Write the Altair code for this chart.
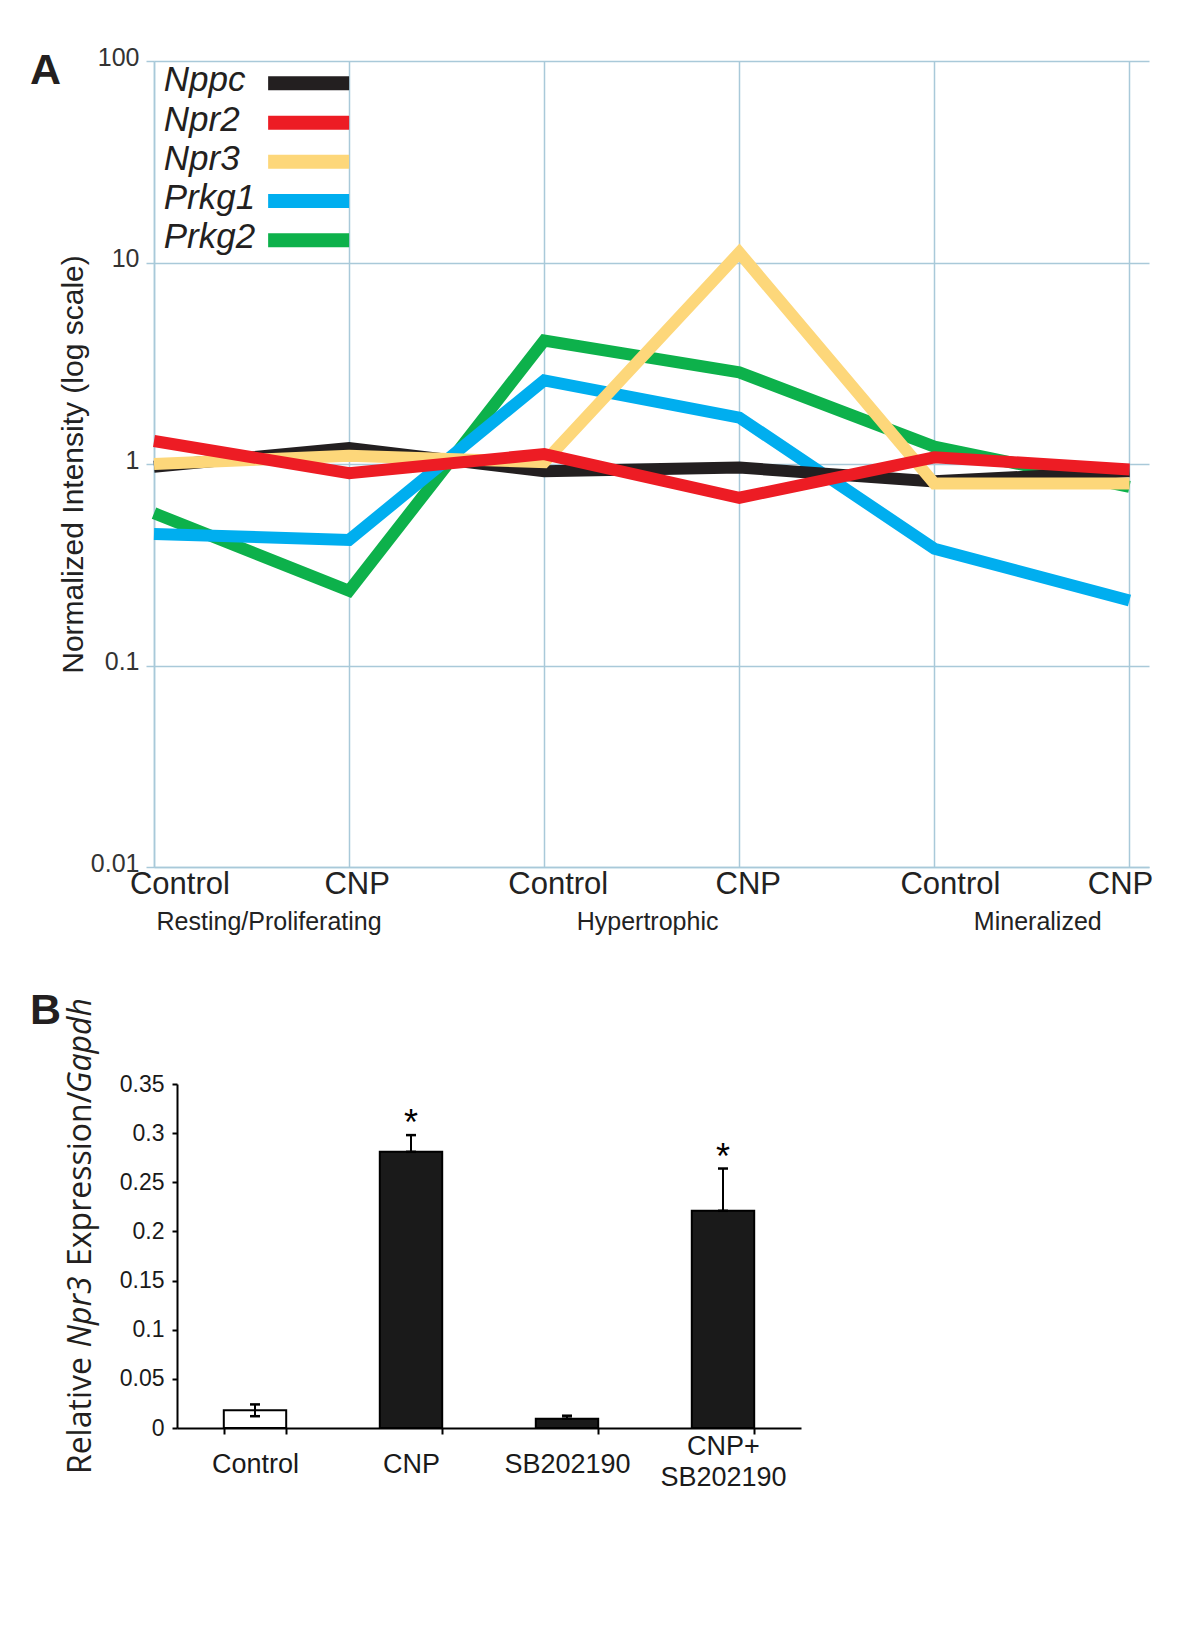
import altair as alt
import pandas as pd

FONT = "Liberation Sans"
GRID = "#a9c9d9"

# ---------------- Panel A data ----------------
positions = [0, 1, 2, 3, 4, 5]
conditions = ["Control", "CNP", "Control", "CNP", "Control", "CNP"]
genes = ["Nppc", "Npr2", "Npr3", "Prkg1", "Prkg2"]
gene_colors = ["#231f20", "#ed1c24", "#fdd77a", "#00aeef", "#0db14b"]
draw_order = ["Prkg2", "Prkg1", "Nppc", "Npr3", "Npr2"]

nppc = [0.97, 1.2, 0.92, 0.96, 0.82, 0.92]
npr2 = [1.3, 0.9, 1.12, 0.68, 1.08, 0.94]
npr3 = [1.0, 1.1, 1.02, 11.2, 0.8, 0.8]
prkg1 = [0.45, 0.42, 2.6, 1.7, 0.38, 0.21]
prkg2 = [0.57, 0.235, 4.1, 2.85, 1.22, 0.77]

y_ticks_a = [0.01, 0.1, 1, 10, 100]
xlabel_pos = [0.133, 1.041, 2.072, 3.046, 4.082, 4.954]
xlabel_y = 0.0081
stages = ["Resting/Proliferating", "Hypertrophic", "Mineralized"]
stage_pos = [0.59, 2.53, 4.53]
stage_y = 0.00533
legend_y = [77.6, 49.4, 31.6, 20.2, 12.9]
legend_text_x = 0.05
legend_sw_x1 = 0.585
legend_sw_x2 = 1.0

# ---------------- Panel B data ----------------
treatments = ["Control", "CNP", "SB202190", "CNP+ SB202190"]
expr = [0.018, 0.281, 0.0095, 0.221]
err = [0.006, 0.017, 0.003, 0.043]
filled = [False, True, True, True]
signif = ["", "*", "", "*"]
y_ticks_b = [0, 0.05, 0.1, 0.15, 0.2, 0.25, 0.3, 0.35]
title_parts = ["Relative", "Npr3", "Expression/", "Gapdh"]
title_italic = [False, True, False, True]
title_start = [-0.0469, 0.0818, 0.1649, 0.3405]

# ---------------- Panel A ----------------
series = {"Nppc": nppc, "Npr2": npr2, "Npr3": npr3, "Prkg1": prkg1, "Prkg2": prkg2}
rows = []
for g in genes:
    for p, v in zip(positions, series[g]):
        rows.append({"gene": g, "x": p, "y": v})
df_a = pd.DataFrame(rows)

xs = alt.Scale(domain=[0, 5.1], nice=False, zero=False)
ys = alt.Scale(type="log", domain=[0.01, 100], nice=False)
cs = alt.Scale(domain=genes, range=gene_colors)

ax_x = alt.Axis(values=positions, grid=True, gridColor=GRID, gridWidth=1.5,
                domainColor=GRID, domainWidth=1.5, ticks=False, labels=False, title=None)
ax_y = alt.Axis(values=y_ticks_a, grid=True, gridColor=GRID, gridWidth=1.5,
                domainColor=GRID, domainWidth=1.5, tickColor=GRID, tickWidth=1.5,
                tickSize=8, labelPadding=7, labelFont=FONT, labelFontSize=25,
                labelColor="#333333", labelOffset=-4, format="~g",
                title="Normalized Intensity (log scale)", titleFont=FONT,
                titleFontSize=30, titleFontWeight="normal", titleColor="#222222",
                titlePadding=2)

def X(field):
    return alt.X(field, type="quantitative", scale=xs, axis=ax_x)

def Y(field):
    return alt.Y(field, type="quantitative", scale=ys, axis=ax_y)

layers_a = []
for g in draw_order:
    layers_a.append(
        alt.Chart(df_a).transform_filter(alt.datum.gene == g)
        .mark_line(strokeWidth=12, strokeJoin="miter", strokeCap="butt")
        .encode(x=X("x"), y=Y("y"),
                color=alt.Color("gene:N", scale=cs, legend=None))
    )

df_leg = pd.DataFrame({"gene": genes, "y": legend_y,
                       "tx": [legend_text_x] * 5,
                       "x1": [legend_sw_x1] * 5, "x2": [legend_sw_x2] * 5})
leg_text = alt.Chart(df_leg).mark_text(
    align="left", baseline="alphabetic", dy=8, font=FONT, fontSize=35,
    fontStyle="italic", color="#231f20"
).encode(x=X("tx"), y=Y("y"), text="gene:N")
leg_sw = alt.Chart(df_leg).mark_rule(strokeWidth=14, strokeCap="butt").encode(
    x=X("x1"), x2="x2:Q", y=Y("y"),
    color=alt.Color("gene:N", scale=cs, legend=None))

df_xl = pd.DataFrame({"x": xlabel_pos, "y": [xlabel_y] * 6, "t": conditions})
xl_text = alt.Chart(df_xl).mark_text(
    align="center", baseline="middle", font=FONT, fontSize=31, color="#222222"
).encode(x=X("x"), y=Y("y"), text="t:N")

df_st = pd.DataFrame({"x": stage_pos, "y": [stage_y] * 3, "t": stages})
st_text = alt.Chart(df_st).mark_text(
    align="center", baseline="middle", font=FONT, fontSize=25, color="#222222"
).encode(x=X("x"), y=Y("y"), text="t:N")

df_la = pd.DataFrame({"x": [-0.636], "y": [76.9], "t": ["A"]})
label_a = alt.Chart(df_la).mark_text(
    align="left", baseline="alphabetic", font=FONT, fontSize=43,
    fontWeight="bold", color="#231f20"
).encode(x=X("x"), y=Y("y"), text="t:N")

chart_a = alt.layer(*layers_a, leg_sw, leg_text, xl_text, st_text, label_a).properties(
    width=995, height=806)

# ---------------- Panel B ----------------
df_b = pd.DataFrame({"t": treatments, "v": expr,
                     "lo": [v if f else v - e for v, e, f in zip(expr, err, filled)],
                     "hi": [v + e for v, e in zip(expr, err)],
                     "fill": ["#1a1a1a" if f else "#ffffff" for f in filled],
                     "sig": signif})

SHIFT = 23  # panel B axis sits further right than panel A's
bx = alt.Scale(domain=treatments, paddingInner=0.6, paddingOuter=0.3,
               range=[SHIFT, SHIFT + 624])
by = alt.Scale(domain=[0, 0.35], nice=False, zero=True)
ax_bx = alt.Axis(domainColor="black", domainWidth=2, tickColor="black", tickWidth=2,
                 tickSize=6, tickBand="extent", labelFont=FONT, labelFontSize=27,
                 labelColor="#1a1a1a", labelAngle=0, labelBaseline="middle",
                 labelPadding=alt.condition("datum.value == 'CNP+ SB202190'",
                                            alt.value(12), alt.value(30)),
                 labelLineHeight=31,
                 labelExpr="split(datum.label, ' ')", title=None)
ax_by = alt.Axis(values=y_ticks_b, domainColor="black", domainWidth=2,
                 tickColor="black", tickWidth=2, tickSize=5, labelPadding=8,
                 labelFont=FONT, labelFontSize=23, labelColor="#1a1a1a",
                 format="~g", grid=False, title=None, offset=-SHIFT)

def BX():
    return alt.X("t:N", scale=bx, axis=ax_bx, sort=treatments)

def BY(field):
    return alt.Y(field, type="quantitative", scale=by, axis=ax_by)

bars = alt.Chart(df_b).mark_bar(stroke="black", strokeWidth=2).encode(
    x=BX(), y=BY("v"), fill=alt.Fill("fill:N", scale=None))
err_rule = alt.Chart(df_b).mark_rule(strokeWidth=2, color="black").encode(
    x=BX(), y=BY("lo"), y2="hi:Q")
cap_hi = alt.Chart(df_b).mark_tick(orient="horizontal", size=10, thickness=2.5,
                                   color="black", opacity=1).encode(x=BX(), y=BY("hi"))
cap_lo = alt.Chart(df_b).mark_tick(orient="horizontal", size=10, thickness=2.5,
                                   color="black", opacity=1).encode(x=BX(), y=BY("lo"))
stars = alt.Chart(df_b).mark_text(baseline="alphabetic", dy=0, font=FONT, fontSize=36,
                                  color="black").encode(x=BX(), y=BY("hi"), text="sig:N")

df_title = pd.DataFrame({"t": title_parts, "y": title_start, "it": title_italic})
title_norm = alt.Chart(df_title).transform_filter(alt.datum.it == False).mark_text(
    angle=270, align="left", baseline="alphabetic", font="Open Sans", fontSize=32,
    color="#231f20").encode(x=alt.value(-86 + SHIFT), y=BY("y"), text="t:N")
title_ital = alt.Chart(df_title).transform_filter(alt.datum.it == True).mark_text(
    angle=270, align="left", baseline="alphabetic", font="Open Sans", fontSize=32,
    fontStyle="italic", color="#231f20").encode(x=alt.value(-86 + SHIFT), y=BY("y"),
                                                text="t:N")

df_lb = pd.DataFrame({"y": [0.411], "t": ["B"]})
label_b = alt.Chart(df_lb).mark_text(
    align="left", baseline="alphabetic", font=FONT, fontSize=43, fontWeight="bold",
    color="#231f20").encode(x=alt.value(-147 + SHIFT), y=BY("y"), text="t:N")

chart_b = alt.layer(bars, err_rule, cap_hi, cap_lo, stars, title_norm, title_ital,
                    label_b).properties(width=624 + SHIFT, height=344)

chart = alt.concat(chart_a, chart_b, columns=1, spacing=54).properties(
    align="none",
    padding={"left": 21, "top": 37, "right": 10, "bottom": 10},
).configure(background="white").configure_view(stroke="transparent", strokeWidth=0)

chart.save("out.html", embed_options={"renderer": "svg", "actions": False})
